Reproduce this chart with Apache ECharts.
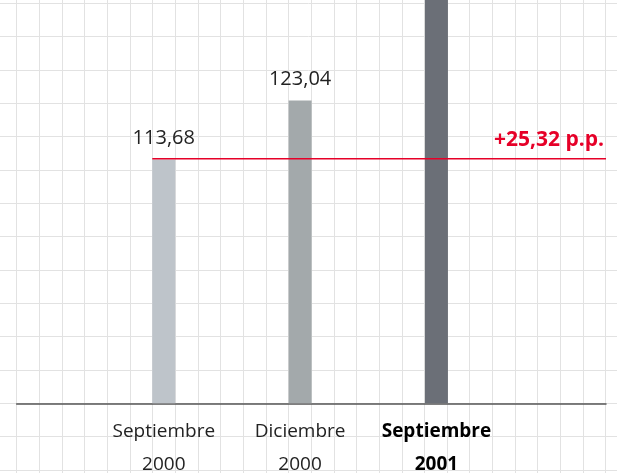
<!DOCTYPE html>
<html>
<head>
<meta charset="utf-8">
<script src="https://cdn.jsdelivr.net/npm/echarts@6/dist/echarts.min.js"></script>
<style>
  html, body { margin: 0; padding: 0; background: #fff; }
  #main { width: 617px; height: 473px; }
</style>
</head>
<body>
<div id="main"></div>
<script>
// data
const categories = ['Septiembre\n2000', 'Diciembre\n2000', 'Septiembre\n2001'];
const values = [113.68, 123.04, 139.00];
const barColors = ['#bec4ca', '#a3a9ab', '#6b6f77'];
const highlightIndex = 2; // current period, shown in bold

const FONT = '"Open Sans", "Noto Sans", sans-serif';
const BAR_W = 23;

function fmt(v) {
    return v.toFixed(2).replace('.', ',');
}

const chart = echarts.init(document.getElementById('main'));

const option = {
    animation: false,
    grid: [
        // graph paper background
        { left: -5.95, top: -30, width: 634.2, height: 533.3, outerBoundsMode: 'none', containLabel: false },
        // bars
        { left: 95.6, top: 0, width: 409, height: 403.3, outerBoundsMode: 'none', containLabel: false },
        // full-width baseline
        { left: 16.7, top: 0, width: 589.3, height: 403.3, outerBoundsMode: 'none', containLabel: false }
    ],
    xAxis: [
        {
            gridIndex: 0, type: 'value', min: 0, max: 28, interval: 1,
            axisLine: { show: false }, axisTick: { show: false }, axisLabel: { show: false },
            splitLine: { show: true, lineStyle: { color: '#e2e2e2', width: 1 } }
        },
        {
            gridIndex: 1, type: 'category', data: categories,
            axisLine: { show: false }, axisTick: { show: false },
            splitLine: { show: false },
            axisLabel: {
                margin: 12,
                interval: 0,
                formatter: function (v, i) {
                    const st = i === highlightIndex ? 'b' : 'n';
                    return v.split('\n').map(s => '{' + st + '|' + s + '}').join('\n');
                },
                rich: {
                    n: { fontSize: 19, lineHeight: 33, color: '#222', fontFamily: FONT },
                    b: { fontSize: 19, lineHeight: 33, color: '#000', fontFamily: FONT, fontWeight: 'bold' }
                }
            }
        },
        {
            gridIndex: 2, type: 'value', min: 0, max: 1,
            axisLine: { show: true, onZero: false, lineStyle: { color: '#555', width: 1.5 } },
            axisTick: { show: false }, axisLabel: { show: false }, splitLine: { show: false }
        }
    ],
    yAxis: [
        {
            gridIndex: 0, type: 'value', min: 0, max: 16, interval: 1,
            axisLine: { show: false }, axisTick: { show: false }, axisLabel: { show: false },
            splitLine: { show: true, lineStyle: { color: '#e2e2e2', width: 1 } }
        },
        {
            gridIndex: 1, type: 'value', min: 75, max: 139,
            axisLine: { show: false }, axisTick: { show: false }, axisLabel: { show: false },
            splitLine: { show: false }
        },
        {
            gridIndex: 2, type: 'value', min: 75, max: 139,
            axisLine: { show: false }, axisTick: { show: false }, axisLabel: { show: false },
            splitLine: { show: false }
        }
    ],
    series: [
        {
            type: 'bar',
            xAxisIndex: 1,
            yAxisIndex: 1,
            barWidth: BAR_W,
            data: values.map((v, i) => ({ value: v, itemStyle: { color: barColors[i] } })),
            label: {
                show: true,
                position: 'top',
                distance: 11,
                fontSize: 20,
                color: '#222',
                fontFamily: FONT,
                formatter: p => fmt(p.value)
            }
        }
    ]
};
chart.setOption(option);

// red reference line at the first value, with the change label
const p0 = chart.convertToPixel({ xAxisIndex: 1, yAxisIndex: 1 }, [0, values[0]]);
const lineY = Math.floor(p0[1]) - 1;
const diff = values[2] - values[0];
chart.setOption({
    graphic: [
        {
            type: 'rect', z: 100,
            shape: { x: p0[0] - BAR_W / 2, y: lineY, width: 606 - (p0[0] - BAR_W / 2), height: 1.4 },
            style: { fill: '#e60028' }
        },
        {
            type: 'text', z: 100,
            x: 604, y: lineY - 7,
            style: {
                text: '+' + fmt(diff) + ' p.p.',
                fill: '#e60028',
                font: 'bold 21px ' + FONT,
                align: 'right',
                verticalAlign: 'bottom'
            }
        }
    ]
});

window.addEventListener('resize', function () {
    chart.resize();
});
</script>
</body>
</html>
